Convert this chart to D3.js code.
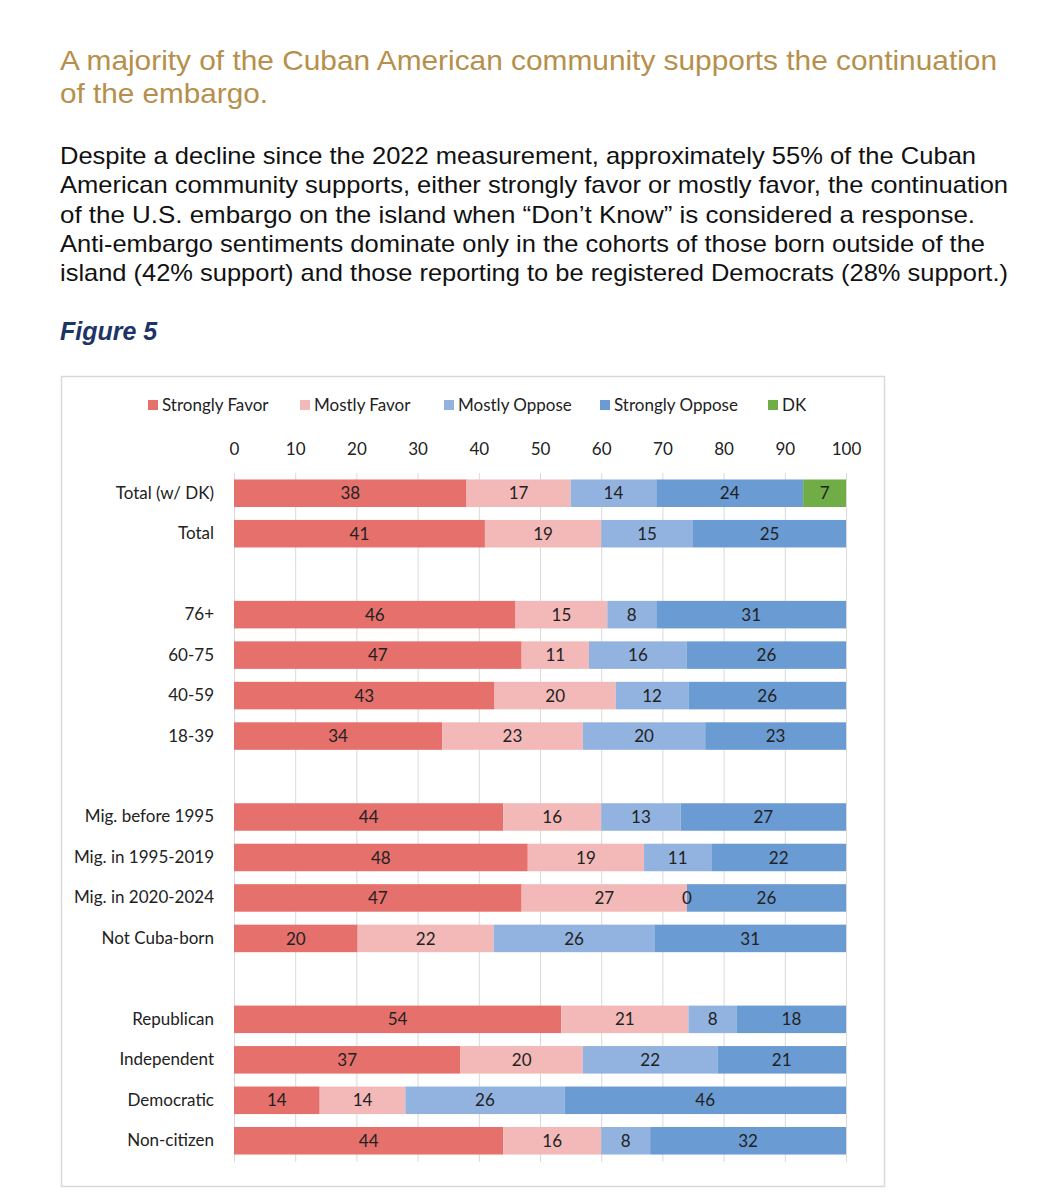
<!DOCTYPE html>
<html>
<head>
<meta charset="utf-8">
<script src="https://cdn.jsdelivr.net/npm/d3@7"></script>
<style>
    body { margin: 0; background: #fff; }
    svg { display: block; }
</style>
</head>
<body>
<svg id="chart" width="1055" height="1200"></svg>
<script>
// categories, blank strings are the gaps between groups
const categories = ["Total (w/ DK)", "Total", "", "76+", "60-75", "40-59", "18-39", " ",
    "Mig. before 1995", "Mig. in 1995-2019", "Mig. in 2020-2024", "Not Cuba-born", "  ",
    "Republican", "Independent", "Democratic", "Non-citizen"];

const seriesNames = ["Strongly Favor", "Mostly Favor", "Mostly Oppose", "Strongly Oppose", "DK"];
const seriesColors = ["#e6706c", "#f2b9b8", "#92b3df", "#6a9bd2", "#70ad47"];

const stronglyFavor  = [38, 41, null, 46, 47, 43, 34, null, 44, 48, 47, 20, null, 54, 37, 14, 44];
const mostlyFavor    = [17, 19, null, 15, 11, 20, 23, null, 16, 19, 27, 22, null, 21, 20, 14, 16];
const mostlyOppose   = [14, 15, null,  8, 16, 12, 20, null, 13, 11,  0, 26, null,  8, 22, 26,  8];
const stronglyOppose = [24, 25, null, 31, 26, 26, 23, null, 27, 22, 26, 31, null, 18, 21, 46, 32];
const dontKnow       = [ 7, null, null, null, null, null, null, null, null, null, null, null, null, null, null, null, null];

const xTicks = [0, 10, 20, 30, 40, 50, 60, 70, 80, 90, 100];

const titleLines = ["A majority of the Cuban American community supports the continuation",
    "of the embargo."];
const bodyLines = [
    "Despite a decline since the 2022 measurement, approximately 55% of the Cuban",
    "American community supports, either strongly favor or mostly favor, the continuation",
    "of the U.S. embargo on the island when \u201cDon\u2019t Know\u201d is considered a response.",
    "Anti-embargo sentiments dominate only in the cohorts of those born outside of the",
    "island (42% support) and those reporting to be registered Democrats (28% support.)"
];

// rendered widths of the header lines, so the text wraps like the page it came from
const titleWidths = [937, 208];
const bodyWidths = [916, 948, 915, 925, 948];

const svg = d3.select("#chart");
const textFont = "'Liberation Sans', Arial, sans-serif";
const chartFont = "Lato, 'Open Sans', sans-serif";

// header text
svg.append("g").selectAll("text")
    .data(titleLines)
    .join("text")
    .attr("x", 60)
    .attr("y", (d, i) => 70 + i * 33)
    .attr("font-family", textFont)
    .attr("font-size", 28.5)
    .attr("fill", "#b68f4c")
    .attr("textLength", (d, i) => titleWidths[i])
    .attr("lengthAdjust", "spacingAndGlyphs")
    .text(d => d);

svg.append("g").selectAll("text")
    .data(bodyLines)
    .join("text")
    .attr("x", 60)
    .attr("y", (d, i) => 164 + i * 29.3)
    .attr("font-family", textFont)
    .attr("font-size", 24)
    .attr("fill", "#111")
    .attr("textLength", (d, i) => bodyWidths[i])
    .attr("lengthAdjust", "spacingAndGlyphs")
    .text(d => d);

svg.append("text")
    .attr("x", 60)
    .attr("y", 340)
    .attr("font-family", textFont)
    .attr("font-size", 25)
    .attr("font-weight", "bold")
    .attr("font-style", "italic")
    .attr("fill", "#1d3466")
    .text("Figure 5");

// chart frame
svg.append("rect")
    .attr("x", 61.5)
    .attr("y", 376.5)
    .attr("width", 823)
    .attr("height", 810)
    .attr("fill", "#fff")
    .attr("stroke", "#d9d9d9")
    .attr("stroke-width", 1.5);

// table of rows for stacking
const rows = categories.map((c, i) => ({
    category: c,
    "Strongly Favor": stronglyFavor[i],
    "Mostly Favor": mostlyFavor[i],
    "Mostly Oppose": mostlyOppose[i],
    "Strongly Oppose": stronglyOppose[i],
    "DK": dontKnow[i]
}));

const x = d3.scaleLinear().domain([0, 100]).range([234, 846]);
const y = d3.scaleBand().domain(categories).range([473, 1161]).paddingInner(0.32).paddingOuter(0.16);

// gridlines
svg.append("g").selectAll("line")
    .data(xTicks)
    .join("line")
    .attr("x1", d => x(d) + 0.5)
    .attr("x2", d => x(d) + 0.5)
    .attr("y1", 473)
    .attr("y2", 1162)
    .attr("stroke", "#d9d9d9")
    .attr("stroke-width", 1);

// top axis labels
const axis = svg.append("g")
    .attr("transform", "translate(0,455)")
    .call(d3.axisTop(x).tickValues(xTicks).tickSize(0).tickPadding(0));
axis.select(".domain").remove();
axis.selectAll("text")
    .attr("font-family", chartFont)
    .attr("font-size", 17)
    .attr("fill", "#222");

// category labels
const yAxis = svg.append("g")
    .attr("transform", "translate(214,0)")
    .call(d3.axisLeft(y).tickSize(0).tickPadding(0));
yAxis.select(".domain").remove();
yAxis.selectAll("text")
    .attr("font-family", chartFont)
    .attr("font-size", 17)
    .attr("fill", "#222");

// stacked bars, each row expanded to 100%
const stack = d3.stack()
    .keys(seriesNames)
    .value((d, key) => d[key] || 0)
    .offset(d3.stackOffsetExpand);

const stacked = stack(rows.filter(r => r["Strongly Favor"] != null));
const color = d3.scaleOrdinal().domain(seriesNames).range(seriesColors);

const layers = svg.append("g").selectAll("g")
    .data(stacked)
    .join("g")
    .attr("fill", d => color(d.key));

layers.selectAll("rect")
    .data(d => d.filter(s => s.data[d.key] != null))
    .join("rect")
    .attr("x", d => x(d[0] * 100))
    .attr("y", d => y(d.data.category))
    .attr("width", d => x(d[1] * 100) - x(d[0] * 100))
    .attr("height", y.bandwidth());

// value labels
svg.append("g").selectAll("g")
    .data(stacked)
    .join("g")
    .selectAll("text")
    .data(d => d.filter(s => s.data[d.key] != null).map(s => ({s, key: d.key})))
    .join("text")
    .attr("x", d => x((d.s[0] + d.s[1]) * 50))
    .attr("y", d => y(d.s.data.category) + y.bandwidth() / 2)
    .attr("dy", "0.36em")
    .attr("text-anchor", "middle")
    .attr("font-family", chartFont)
    .attr("font-size", 17)
    .attr("fill", "#222")
    .text(d => d.s.data[d.key]);

// legend
const legendX = [148, 300, 444, 600, 768];
const legend = svg.append("g").selectAll("g")
    .data(seriesNames)
    .join("g")
    .attr("transform", (d, i) => `translate(${legendX[i]},405)`);

legend.append("rect")
    .attr("x", 0)
    .attr("y", -5)
    .attr("width", 10)
    .attr("height", 10)
    .attr("fill", d => color(d));

legend.append("text")
    .attr("x", 14)
    .attr("dy", "0.36em")
    .attr("font-family", chartFont)
    .attr("font-size", 17)
    .attr("fill", "#222")
    .text(d => d);
</script>
</body>
</html>
